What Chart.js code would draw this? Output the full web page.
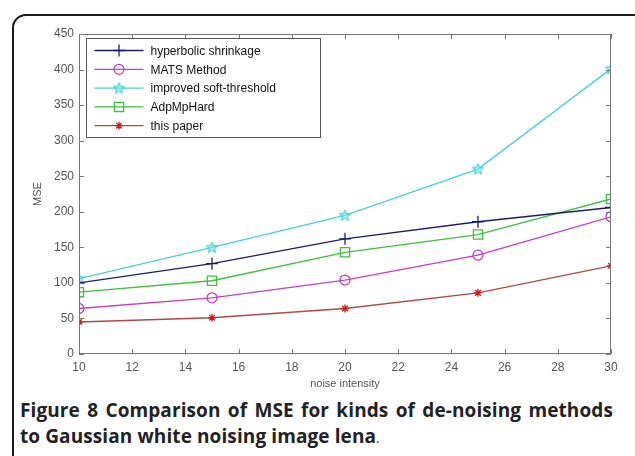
<!DOCTYPE html>
<html>
<head>
<meta charset="utf-8">
<script src="https://cdn.jsdelivr.net/npm/chart.js@4.4.0/dist/chart.umd.min.js"></script>
<style>
  body { margin: 0; background: #fff; width: 635px; height: 456px; overflow: hidden; position: relative; }
  #frame { position: absolute; left: 12px; top: 14px; width: 640px; height: 480px; border: 2px solid #1a1a1a; border-radius: 14px; }
  #wrap { position: absolute; left: 0; top: 0; width: 635px; height: 395px; }
  #caption { position: absolute; left: 20px; top: 397px; width: 593px; font-family: "Open Sans", "Noto Sans", sans-serif; font-weight: 700; font-size: 19px; line-height: 26px; color: #222; text-align: justify; text-align-last: left; letter-spacing: 0.1px; }
  #caption .p { font-weight: 400; font-size: 13px; }
</style>
</head>
<body>
<div id="frame"></div>
<div id="wrap"><canvas id="mseChart"></canvas></div>
<div id="caption">Figure 8 Comparison of MSE for kinds of de-noising methods to Gaussian white noising image lena<span class="p">.</span></div>
<script>
const noise = [10, 15, 20, 25, 30];
const hyperbolic = [100, 127, 162, 186, 206];
const mats = [64, 79, 104, 139, 193];
const improved = [106, 150, 195, 260, 401];
const adpMpHard = [87, 103, 143, 168, 218];
const thisPaper = [45, 51, 64, 86, 124];
const labels = ['hyperbolic shrinkage', 'MATS Method', 'improved soft-threshold', 'AdpMpHard', 'this paper'];
const xTicks = [10, 12, 14, 16, 18, 20, 22, 24, 26, 28, 30];
const yTicks = [0, 50, 100, 150, 200, 250, 300, 350, 400, 450];

const FONT = '"Liberation Sans", Arial, sans-serif';

// five point star marker for the cyan line
function starMarker(color) {
  const c = document.createElement('canvas');
  c.width = 13; c.height = 13;
  const g = c.getContext('2d');
  g.beginPath();
  for (let i = 0; i < 10; i++) {
    const r = i % 2 ? 2.6 : 6;
    const a = -Math.PI / 2 + i * Math.PI / 5;
    g.lineTo(6.5 + r * Math.cos(a), 6.8 + r * Math.sin(a));
  }
  g.closePath();
  g.fillStyle = 'rgba(120,230,230,0.6)';
  g.fill();
  g.strokeStyle = color;
  g.lineWidth = 1;
  g.stroke();
  return c;
}

function pts(ys) {
  return noise.map((x, i) => ({ x: x, y: ys[i] }));
}

const styles = [
  { color: '#1c1c68', point: 'cross', radius: 6 },
  { color: '#c53ec5', point: 'circle', radius: 5 },
  { color: '#45d2d2', point: starMarker('#30c8d0'), radius: 6 },
  { color: '#3fc03f', point: 'rect', radius: 6.5 },
  { color: '#b04848', point: 'star', radius: 4, pointColor: '#d01818' },
];
const series = [hyperbolic, mats, improved, adpMpHard, thisPaper];

const datasets = series.map((ys, i) => ({
  label: labels[i],
  data: pts(ys),
  borderColor: styles[i].color,
  borderWidth: 1.3,
  backgroundColor: 'rgba(0,0,0,0)',
  pointStyle: styles[i].point,
  pointRadius: styles[i].radius,
  pointBorderColor: styles[i].pointColor || styles[i].color,
  pointBorderWidth: 1.3,
  pointBackgroundColor: 'rgba(0,0,0,0)',
  tension: 0,
}));

const matlabBox = {
  id: 'matlabBox',
  afterDraw(chart) {
    const ctx = chart.ctx;
    const a = chart.chartArea;
    const xs = chart.scales.x, ys = chart.scales.y;
    ctx.save();
    ctx.strokeStyle = '#777';
    ctx.lineWidth = 1;
    ctx.strokeRect(a.left + 0.5, a.top + 0.5, a.right - a.left - 1, a.bottom - a.top - 1);
    ctx.beginPath();
    xTicks.forEach(v => {
      const px = Math.round(xs.getPixelForValue(v)) + 0.5;
      ctx.moveTo(px, a.bottom); ctx.lineTo(px, a.bottom - 5);
      ctx.moveTo(px, a.top); ctx.lineTo(px, a.top + 5);
    });
    yTicks.forEach(v => {
      const py = Math.round(ys.getPixelForValue(v)) + 0.5;
      ctx.moveTo(a.left, py); ctx.lineTo(a.left + 5, py);
      ctx.moveTo(a.right, py); ctx.lineTo(a.right - 5, py);
    });
    ctx.stroke();

    // legend box in the upper left corner
    const bx = a.left + 7.5, by = a.top + 4.5, bw = 234, bh = 99;
    ctx.fillStyle = '#fff';
    ctx.fillRect(bx, by, bw, bh);
    ctx.strokeStyle = '#555';
    ctx.strokeRect(bx, by, bw, bh);
    ctx.font = '12px ' + FONT;
    ctx.textBaseline = 'middle';
    chart.data.datasets.forEach((ds, i) => {
      const y = by + 12 + i * 18.8;
      ctx.strokeStyle = ds.borderColor;
      ctx.lineWidth = 1.3;
      ctx.beginPath();
      ctx.moveTo(bx + 8, y); ctx.lineTo(bx + 57, y);
      ctx.stroke();
      ctx.strokeStyle = ds.pointBorderColor;
      ctx.fillStyle = 'rgba(0,0,0,0)';
      Chart.helpers.drawPoint(ctx, {
        pointStyle: ds.pointStyle,
        radius: ds.pointRadius,
        borderWidth: ds.pointBorderWidth,
        rotation: 0,
      }, bx + 32.5, y);
      ctx.fillStyle = '#111';
      ctx.fillText(ds.label, bx + 64, y + 1);
    });
    ctx.restore();
  }
};

new Chart(document.getElementById('mseChart'), {
  type: 'line',
  data: { datasets: datasets },
  options: {
    responsive: true,
    maintainAspectRatio: false,
    animation: false,
    layout: { padding: { top: 34, right: 24, left: 31, bottom: 0 } },
    plugins: { legend: { display: false }, tooltip: { enabled: false } },
    scales: {
      x: {
        type: 'linear',
        min: 10,
        max: 30,
        afterBuildTicks(s) { s.ticks = xTicks.map(v => ({ value: v })); },
        afterFit(s) { s.height = 41; },
        grid: { display: false, drawTicks: false },
        border: { display: false },
        ticks: { color: '#555', font: { family: FONT, size: 12 }, padding: 6, maxRotation: 0 },
        title: { display: true, text: 'noise intensity', color: '#555', font: { family: FONT, size: 11 }, padding: { top: 0, bottom: 4 } },
      },
      y: {
        min: 0,
        max: 450,
        afterBuildTicks(s) { s.ticks = yTicks.map(v => ({ value: v })); },
        afterFit(s) { s.width = 48; },
        grid: { display: false, drawTicks: false },
        border: { display: false },
        ticks: { color: '#555', font: { family: FONT, size: 12 }, padding: 5 },
        title: { display: true, text: 'MSE', color: '#555', font: { family: FONT, size: 11 }, padding: 0 },
      },
    },
  },
  plugins: [matlabBox],
});
</script>
</body>
</html>
